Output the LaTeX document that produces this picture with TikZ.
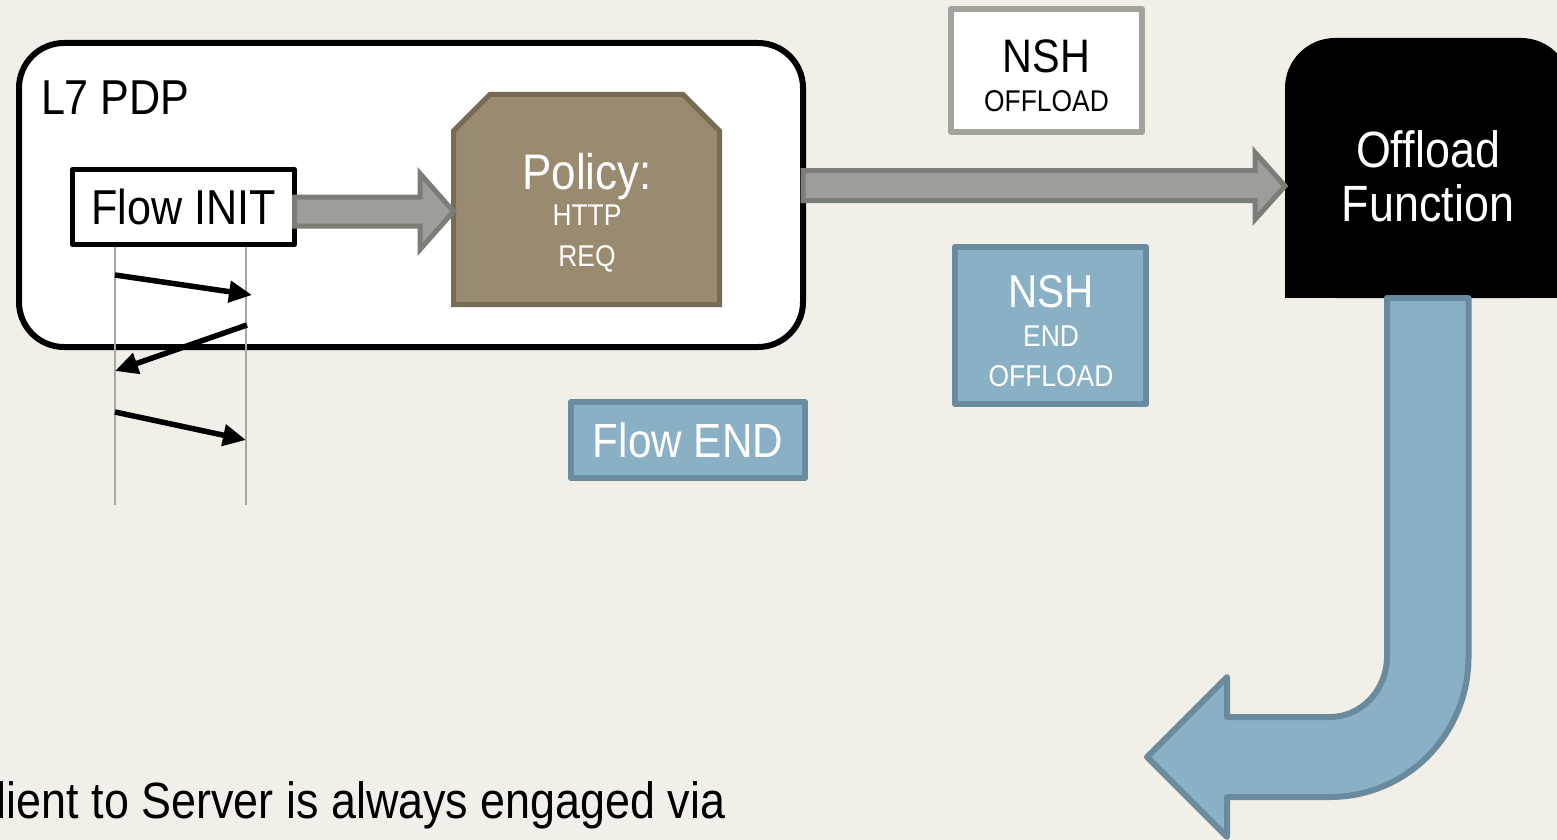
\documentclass[tikz,border=0pt]{standalone}
\usepackage{fontspec}
\setmainfont[FakeStretch=0.88]{Liberation Sans}
\usepackage{xcolor}
\usepackage{tikz}
\usetikzlibrary{
	arrows.meta,calc
}
\definecolor{bg}{HTML}{F2EFE8}
\definecolor{gfill}{HTML}{9D9E97}
\definecolor{gline}{HTML}{7B7D77}
\definecolor{pfill}{HTML}{9A8B70}
\definecolor{pline}{HTML}{786B55}
\definecolor{bfill}{HTML}{8AB0C6}
\definecolor{bline}{HTML}{6A8A9E}
\definecolor{nline}{HTML}{A3A39B}
\definecolor{lgray}{HTML}{A8A8A2}

\begin{document}
\begin{tikzpicture}[x=1pt,y=-1pt,
		box/.style={draw,rectangle,inner sep=0pt,outer sep=0pt,line join=round},
		lbl/.style={inner sep=0pt,outer sep=0pt,align=center},
		garrow/.style={draw=gline,fill=gfill,line width=5pt},
		barrow/.style={draw=bline,fill=bfill,line width=6pt,line join=round},
		msg/.style={line width=5.5pt,-{Triangle[length=23pt,width=21pt]}},
		life/.style={draw=lgray,line width=1.2pt}]
		\fill[bg] (0,0) rectangle (1557,840);
		\useasboundingbox (0,0) rectangle (1557,840);
		\clip (0,0) rectangle (1557,840);

		\node[box,fill=white,line width=6pt,rounded corners=45pt,minimum width=784pt,minimum height=304pt] (L7) at (411,195) {};
		\node[lbl,anchor=base west,font=\fontsize{49}{54}\selectfont] (L7') at (41,115) {L7 PDP};

		\coordinate (C) at (115,247);
		\coordinate (C') at (115,505);
		\coordinate (S) at (246,247);
		\coordinate (S') at (246,505);
		\coordinate (C1) at (115,275);
		\coordinate (S1) at (252,295);
		\coordinate (S2) at (247,325);
		\coordinate (C2) at (115,371);
		\coordinate (C3) at (115,412);
		\coordinate (S3) at (246,440);
		\path[life] (C) edge (C') (S) edge (S');

		\node[box,fill=white,line width=5pt,minimum width=222pt,minimum height=75pt,font=\fontsize{49}{54}\selectfont] (FI) at (183.5,207) {Flow INIT};

		\node[box,draw=none,minimum width=266pt,minimum height=210pt] (P) at (586.5,199.5) {};
		\draw[draw=pline,fill=pfill,line width=5pt] (P.south west) -- ($(P.north west)+(0,36.5)$) -- ($(P.north west)+(36.5,0)$) -- ($(P.north east)+(-36.5,0)$) -- ($(P.north east)+(0,36.5)$) -- (P.south east) -- cycle;
		\node[lbl,text=white,font=\fontsize{30}{41}\selectfont] (P') at (587,213) {{\fontsize{50}{41}\selectfont Policy:}\\[-5pt]HTTP\\REQ};

		\node[box,draw=nline,fill=white,line width=6pt,minimum width=191pt,minimum height=123pt] (NO) at (1046.5,70.5) {};
		\node[lbl,font=\fontsize{30}{39}\selectfont] (NO') at (1046.5,75.5) {{\fontsize{47}{39}\selectfont NSH}\\OFFLOAD};

		\node[box,draw=bline,fill=bfill,line width=6pt,minimum width=191pt,minimum height=157pt] (NE) at (1050.5,325.5) {};
		\node[lbl,text=white,font=\fontsize{30}{39.5}\selectfont] (NE') at (1051,331) {{\fontsize{46}{39.5}\selectfont NSH}\\END\\OFFLOAD};

		\node[box,draw=bline,fill=bfill,line width=6pt,minimum width=234pt,minimum height=76pt,text=white,font=\fontsize{48}{52}\selectfont] (FE) at (688,440) {Flow END};

		\node[box,draw=none,fill=black,rounded corners=50pt,minimum width=286pt,minimum height=260pt] (OF) at (1428,168) {};
		\fill[black] (OF.west) rectangle (OF.south east);
		\node[lbl,text=white,font=\fontsize{51}{54}\selectfont] (OF') at (1428,176.5) {Offload\\Function};

		\node[lbl,anchor=base west,font=\fontsize{51}{56}\selectfont] (T) at (-3,818) {lient to Server is always engaged via};
		%
		\draw[garrow] (FI.east |- 0,197) -- (420,197) -- (420,173.5) -- (P.west |- 0,211.5) -- (420,249.5) -- (420,226) -- (FI.east |- 0,226) -- cycle;
		\draw[garrow] (L7.east |- 0,170.5) -- (1255,170.5) -- (1255,152.5) -- (OF.west |- 0,186) -- (1255,219.5) -- (1255,200.5) -- (L7.east |- 0,200.5) -- cycle;
		\draw[barrow,shift={(OF.south)}] (-41,0) -- (40.5,0) -- (40.5,359) .. controls (40.5,436) and (-21,499) .. (-98,499) -- (-201,499) -- (-201,539) -- (-281,459) -- (-201,379) -- (-201,419) -- (-98,419) .. controls (-66,419) and (-41,391) .. (-41,359) -- cycle;

		\path[msg]
		(C1) edge (S1)
		(S2) edge (C2)
		(C3) edge (S3);
	\end{tikzpicture}
\end{document}
